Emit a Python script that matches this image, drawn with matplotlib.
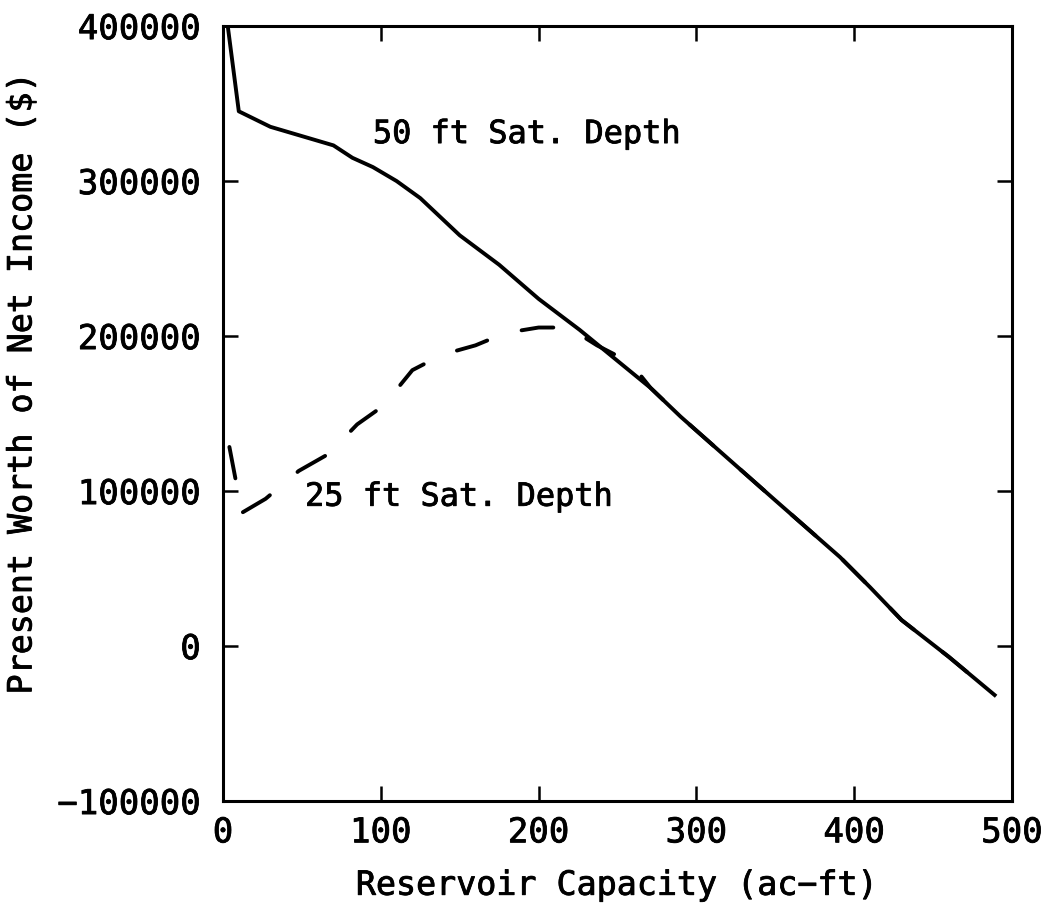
import matplotlib
matplotlib.use("Agg")
import matplotlib.pyplot as plt
import matplotlib.patheffects as pe

# 50 ft saturated depth (solid)
cap_50 = [3, 10, 30, 50, 70, 82, 95, 110, 125, 150, 175, 200, 226, 250, 271, 290,
          320, 350, 391, 410, 430, 460, 489]
pw_50 = [400000, 345000, 335000, 329000, 323000, 315000, 309000, 300000, 289000,
         265000, 246000, 224000, 204000, 184000, 166500, 148000, 121000, 94000,
         57400, 38000, 16800, -7000, -31600]

# 25 ft saturated depth (dashed)
cap_25 = [0, 12, 27, 48, 67, 85, 103, 112, 120, 139, 160, 179, 200, 219, 237, 258,
          271, 290, 320, 350, 391, 410, 430, 460, 489]
pw_25 = [150000, 86000, 95000, 113000, 124000, 143000, 156000, 168000, 178000,
         188000, 194000, 202000, 205500, 205500, 194000, 183000, 166500, 148000,
         121000, 94000, 57400, 38000, 16800, -7000, -31600]

x_ticks = [0, 100, 200, 300, 400, 500]
y_ticks = [-100000, 0, 100000, 200000, 300000, 400000]
y_tick_labels = ["\u2212100000", "0", "100000", "200000", "300000", "400000"]

plt.rcParams["font.family"] = ["DejaVu Sans Mono", "DejaVu Sans"]
plt.rcParams["lines.scale_dashes"] = False

# slightly heavier strokes, like the plotter lettering
thick = [pe.withStroke(linewidth=0.6, foreground="black")]

fig = plt.figure(figsize=(10.49, 9.11), dpi=100)
ax = fig.add_axes([0.2126, 0.1207, 0.7521, 0.8507])

ax.plot(cap_50, pw_50, color="black", lw=2.8, solid_joinstyle="round")
ax.plot(cap_25, pw_25, color="black", lw=2.8, linestyle=(24.5, (23, 26)),
        dash_capstyle="round")

ax.set_xlim(0, 500)
ax.set_ylim(-100000, 400000)
ax.set_xticks(x_ticks)
ax.set_yticks(y_ticks)
ax.set_yticklabels(y_tick_labels)

for s in ax.spines.values():
    s.set_linewidth(2.2)
ax.tick_params(direction="in", length=11, width=1.8, top=True, right=True,
               labelsize=24.5)
ax.tick_params(axis="x", pad=11)
ax.tick_params(axis="y", pad=16)

ax.set_xlabel("Reservoir Capacity (ac\u2212ft)", fontsize=24, labelpad=14)
ax.set_ylabel("Present Worth of Net Income ($)", fontsize=24)
ax.yaxis.set_label_coords(-0.234, 0.54)

t1 = ax.text(95, 330000, "50 ft Sat. Depth", fontsize=23, va="center")
t2 = ax.text(52, 96000, "25 ft Sat. Depth", fontsize=23, va="center")

for t in ax.get_xticklabels() + ax.get_yticklabels() + [ax.xaxis.label, ax.yaxis.label, t1, t2]:
    t.set_path_effects(thick)

fig.savefig("out.png", dpi=100, facecolor="white")
